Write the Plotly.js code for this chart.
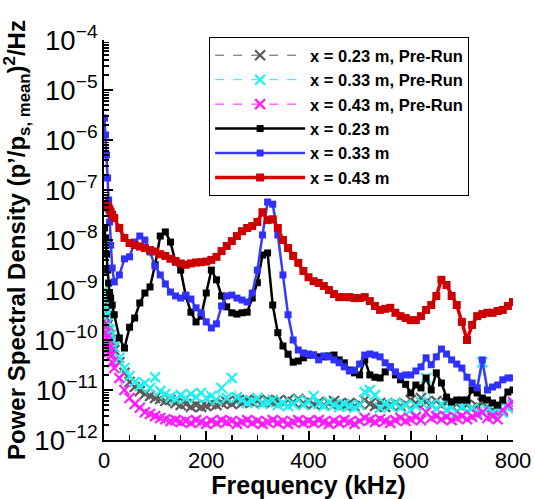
<!DOCTYPE html>
<html>
<head>
<meta charset="utf-8">
<script src="https://cdn.plot.ly/plotly-3.0.1.min.js"></script>
<style>html,body{margin:0;padding:0;background:#fff;}</style>
</head>
<body>
<div id="chart" style="width:535px;height:499px;"></div>
<script>
// Frequency grid (kHz)
const freq = [1,3,5,7,9,11,13,16,20,
  30,40,50,60,70,80,90,100,110,120,
  130,140,150,160,170,180,190,200,210,220,
  230,240,250,260,270,280,290,300,310,320,
  330,340,350,360,370,380,390,400,410,420,
  430,440,450,460,470,480,490,500,510,520,
  530,540,550,560,570,580,590,600,610,620,
  630,640,650,660,670,680,690,700,710,720,
  730,740,750,760,770,780,790,800];

const seriesNames = ['x = 0.23 m, Pre-Run','x = 0.33 m, Pre-Run','x = 0.43 m, Pre-Run','x = 0.23 m','x = 0.33 m','x = 0.43 m'];

const pre023 = [5.0e-10,3.6e-10,2.75e-10,2.0e-10,1.6e-10,1.26e-10,1.0e-10,7.9e-11,6.3e-11,
  3.6e-11,2.2e-11,1.45e-11,1.15e-11,9.5e-12,8.3e-12,7.6e-12,6.9e-12,6.6e-12,6.0e-12,
  6.3e-12,5.5e-12,5.0e-12,5.25e-12,4.6e-12,5.0e-12,4.6e-12,4.8e-12,5.25e-12,5.0e-12,
  5.5e-12,5.75e-12,5.25e-12,6.0e-12,5.5e-12,6.3e-12,5.75e-12,6.0e-12,5.5e-12,6.3e-12,
  5.75e-12,6.0e-12,5.5e-12,6.3e-12,5.75e-12,6.6e-12,5.5e-12,6.0e-12,5.25e-12,5.75e-12,
  5.0e-12,5.5e-12,6.0e-12,5.25e-12,5.0e-12,5.5e-12,4.8e-12,5.25e-12,6.3e-12,5.25e-12,
  4.8e-12,5.5e-12,4.6e-12,5.0e-12,5.5e-12,4.8e-12,5.25e-12,6.3e-12,5.5e-12,6.9e-12,
  5.75e-12,5.25e-12,6.0e-12,5.0e-12,5.5e-12,4.8e-12,5.25e-12,4.6e-12,5.0e-12,4.4e-12,
  4.8e-12,5.5e-12,4.4e-12,4.0e-12,4.2e-12,3.8e-12,4.4e-12,5.0e-12];

const pre033 = [1.0e-9,6.3e-10,4.4e-10,3.2e-10,2.3e-10,1.6e-10,1.26e-10,1.0e-10,7.2e-11,
  4.4e-11,2.75e-11,1.9e-11,1.45e-11,1.2e-11,1.38e-11,1.1e-11,1.8e-11,9.5e-12,8.3e-12,
  7.2e-12,6.6e-12,7.9e-12,6.9e-12,8.3e-12,7.2e-12,8.7e-12,6.9e-12,7.6e-12,6.3e-12,
  1.1e-11,6.9e-12,1.74e-11,7.2e-12,6.3e-12,5.5e-12,6.0e-12,6.9e-12,5.25e-12,5.75e-12,
  6.3e-12,5.0e-12,5.5e-12,4.8e-12,5.25e-12,6.3e-12,5.0e-12,5.75e-12,7.6e-12,5.25e-12,
  4.8e-12,5.75e-12,5.0e-12,4.6e-12,5.25e-12,4.8e-12,4.4e-12,5.0e-12,9.1e-12,1.0e-11,
  7.9e-12,4.4e-12,5.25e-12,4.8e-12,5.5e-12,4.4e-12,5.0e-12,4.0e-12,4.8e-12,5.75e-12,
  1.74e-11,5.0e-12,4.2e-12,5.25e-12,4.0e-12,4.4e-12,3.6e-12,4.6e-12,3.8e-12,4.2e-12,
  3.6e-12,3.6e-11,4.0e-12,3.6e-12,4.2e-12,3.5e-12,4.4e-12,5.25e-12];

const pre043 = [2.0e-10,1.38e-10,1.1e-10,8.7e-11,6.9e-11,5.75e-11,4.8e-11,3.6e-11,2.75e-11,
  1.74e-11,1.0e-11,6.9e-12,5.25e-12,4.4e-12,3.6e-12,3.3e-12,3.0e-12,2.75e-12,2.6e-12,
  2.4e-12,2.5e-12,2.3e-12,2.4e-12,2.2e-12,2.5e-12,2.3e-12,2.1e-12,2.4e-12,2.2e-12,
  2.5e-12,2.3e-12,2.4e-12,2.1e-12,2.3e-12,2.5e-12,2.2e-12,2.4e-12,2.1e-12,2.3e-12,
  2.5e-12,2.2e-12,2.4e-12,2.1e-12,2.3e-12,2.5e-12,2.2e-12,2.4e-12,2.2e-12,2.5e-12,
  2.3e-12,2.1e-12,2.4e-12,2.2e-12,2.5e-12,2.3e-12,2.1e-12,2.4e-12,2.75e-12,2.5e-12,
  2.3e-12,2.6e-12,2.4e-12,2.2e-12,2.5e-12,2.75e-12,2.4e-12,2.6e-12,2.9e-12,2.5e-12,
  3.6e-12,2.75e-12,3.0e-12,2.6e-12,2.9e-12,2.5e-12,2.75e-12,3.0e-12,2.6e-12,2.9e-12,
  3.2e-12,3.6e-12,2.75e-12,3.0e-12,2.6e-12,4.0e-12,5.0e-12,5.75e-12];

const run023 = [1.74e-8,1.1e-8,5.2e-9,2.5e-9,1.38e-9,8.7e-10,6.9e-10,5.0e-10,3.2e-10,
  1.1e-10,6.9e-11,1.8e-10,2.75e-10,5.5e-10,8.7e-10,1.15e-9,3.2e-9,1.2e-8,1.45e-8,
  9.1e-9,3.6e-9,2.5e-9,7.6e-10,3.6e-10,2.3e-10,3.0e-10,8.7e-10,2.5e-9,1.6e-9,
  7.6e-10,4.6e-10,3.5e-10,3.3e-10,3.5e-10,3.6e-10,6.9e-10,1.4e-9,5.0e-9,5.5e-9,
  5.0e-10,1.4e-10,7.6e-11,5.2e-11,3.6e-11,3.8e-11,4.4e-11,5.0e-11,5.0e-11,4.6e-11,
  4.6e-11,4.8e-11,5.0e-11,4.0e-11,3.5e-11,2.5e-11,2.2e-11,2.0e-11,4.0e-11,2.0e-11,
  1.8e-11,1.74e-11,2.3e-11,2.9e-11,2.0e-11,1.6e-11,1.3e-11,8.7e-12,1.26e-11,1.1e-11,
  1.74e-11,1.0e-11,2.2e-11,1.38e-11,7.2e-12,5.75e-12,6.3e-12,6.3e-12,6.3e-12,1.0e-11,
  8.7e-12,6.9e-12,6.3e-12,5.5e-12,5.0e-12,6.3e-12,9.1e-12,1.0e-11];

const run033 = [2.75e-6,1.26e-6,5.0e-7,1.74e-7,6.3e-8,2.3e-8,7.9e-9,2.75e-9,1.45e-9,
  2.0e-9,4.2e-9,4.6e-9,9.1e-9,1.2e-8,1.0e-8,5.75e-9,3.0e-9,2.0e-9,1.32e-9,
  9.1e-10,7.6e-10,6.9e-10,7.9e-10,6.6e-10,4.4e-10,3.5e-10,2.3e-10,1.74e-10,2.1e-10,
  4.8e-10,7.6e-10,7.9e-10,6.9e-10,6.3e-10,5.75e-10,8.7e-10,2.5e-9,1.26e-8,5.75e-8,
  5.2e-8,1.26e-8,2.0e-9,3.2e-10,1.0e-10,6.3e-11,5.5e-11,5.25e-11,5.0e-11,4.0e-11,
  4.8e-11,4.6e-11,4.0e-11,3.5e-11,2.9e-11,2.4e-11,2.5e-11,3.3e-11,5.0e-11,5.25e-11,
  5.0e-11,4.6e-11,3.5e-11,2.9e-11,2.3e-11,1.9e-11,2.0e-11,2.0e-11,2.4e-11,2.9e-11,
  4.4e-11,3.2e-11,4.6e-11,6.6e-11,5.25e-11,4.0e-11,3.3e-11,2.75e-11,1.8e-11,1.38e-11,
  1.1e-11,4.0e-11,1.0e-11,1.15e-11,1.26e-11,1.6e-11,1.74e-11,1.74e-11];

const run043 = [5.0e-8,5.2e-8,4.8e-8,4.6e-8,4.4e-8,4.0e-8,3.6e-8,3.2e-8,2.75e-8,
  1.74e-8,1.1e-8,8.7e-9,7.9e-9,7.4e-9,6.9e-9,6.3e-9,5.9e-9,5.2e-9,4.8e-9,
  4.2e-9,3.8e-9,3.4e-9,3.2e-9,3.4e-9,3.55e-9,3.6e-9,3.7e-9,4.0e-9,4.6e-9,
  6.0e-9,7.6e-9,9.5e-9,1.2e-8,1.5e-8,1.74e-8,1.9e-8,2.3e-8,3.6e-8,2.5e-8,
  2.6e-8,1.74e-8,1.0e-8,6.9e-9,4.8e-9,3.5e-9,2.4e-9,1.8e-9,1.5e-9,1.38e-9,
  1.2e-9,1.0e-9,8.3e-10,7.2e-10,7.2e-10,7.2e-10,6.9e-10,6.9e-10,7.2e-10,6.0e-10,
  4.8e-10,4.0e-10,4.2e-10,4.4e-10,3.5e-10,3.0e-10,2.75e-10,2.5e-10,2.5e-10,3.0e-10,
  4.0e-10,5.0e-10,7.6e-10,1.6e-9,1.26e-9,7.6e-10,5.0e-10,2.3e-10,1.0e-10,2.0e-10,
  3.0e-10,3.3e-10,3.5e-10,3.5e-10,3.8e-10,4.0e-10,4.8e-10,5.75e-10];

const FONT = 'Arial, "Liberation Sans", sans-serif';

function preTrace(name, y, color) {
  return {
    x: freq, y: y, name: name, type: 'scatter', mode: 'lines+markers',
    line: {color: color, width: 1, dash: 'dash'},
    marker: {symbol: 'x-thin', size: 10, color: color, line: {color: color, width: 2.2}}
  };
}
function runTrace(name, y, lineColor, markColor, msize, lw) {
  return {
    x: freq, y: y, name: name, type: 'scatter', mode: 'lines+markers',
    line: {color: lineColor, width: lw},
    marker: {symbol: 'square', size: msize, color: markColor, line: {width: 0}}
  };
}

const data = [
  preTrace(seriesNames[0], pre023, '#5a5a5a'),
  preTrace(seriesNames[1], pre033, '#1ef0f0'),
  preTrace(seriesNames[2], pre043, '#ff1aff'),
  runTrace(seriesNames[3], run023, '#000000', '#000000', 7, 2.5),
  runTrace(seriesNames[4], run033, '#3a3aff', '#3030ff', 7, 2.5),
  runTrace(seriesNames[5], run043, '#dd0000', '#cc0000', 8, 3.5)
];

const layout = {
  width: 535, height: 499,
  margin: {l: 104, r: 22, t: 40, b: 59},
  paper_bgcolor: '#ffffff', plot_bgcolor: '#ffffff',
  font: {family: FONT, color: '#000000'},
  showlegend: true,
  xaxis: {
    range: [0, 800], tick0: 0, dtick: 200,
    ticks: 'inside', ticklen: 9, tickwidth: 2, tickcolor: '#000',
    showline: true, linewidth: 2, linecolor: '#000', mirror: false,
    showgrid: false, zeroline: false,
    tickfont: {size: 22, family: FONT},
    title: {text: '<b>Frequency (kHz)</b>', font: {size: 25, family: FONT}, standoff: 0},
    minor: {dtick: 50, ticks: 'inside', ticklen: 5, tickwidth: 1.5, tickcolor: '#000', showgrid: false}
  },
  yaxis: {
    type: 'log', range: [-12, -4], dtick: 1, exponentformat: 'power',
    ticks: 'inside', ticklen: 9, tickwidth: 2, tickcolor: '#000',
    showline: true, linewidth: 2, linecolor: '#000', mirror: false,
    showgrid: false, zeroline: false,
    tickfont: {size: 22, family: FONT},
    title: {text: '<b>Power Spectral Density (p’/p<sub>s, mean</sub>)<sup>2</sup>/Hz</b>', font: {size: 24, family: FONT}, standoff: 2},
    minor: {dtick: 'D1', ticks: 'inside', ticklen: 5, tickwidth: 1.5, tickcolor: '#000', showgrid: false}
  },
  legend: {
    x: 0.257, y: 1.0075, xanchor: 'left', yanchor: 'top',
    bgcolor: '#ffffff', bordercolor: '#000', borderwidth: 1,
    font: {size: 16.5, family: FONT, weight: 'bold'},
    itemwidth: 90, tracegroupgap: 0
  }
};

Plotly.newPlot('chart', data, layout, {displayModeBar: false, staticPlot: true});
</script>
</body>
</html>
